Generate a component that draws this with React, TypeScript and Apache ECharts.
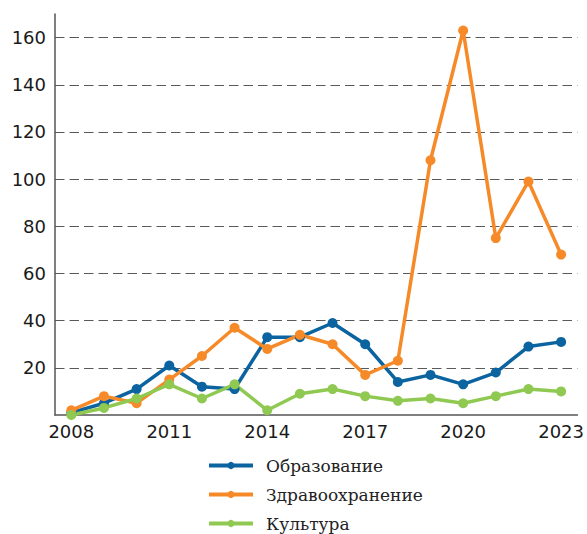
import React, { useEffect, useRef } from "react";
import * as echarts from "echarts";

const years = ["2008","2009","2010","2011","2012","2013","2014","2015","2016","2017","2018","2019","2020","2021","2022","2023"];
const education = [1, 5, 11, 21, 12, 11, 33, 33, 39, 30, 14, 17, 13, 18, 29, 31];
const health = [2, 8, 5, 15, 25, 37, 28, 34, 30, 17, 23, 108, 163, 75, 99, 68];
const culture = [0, 3, 7, 13, 7, 13, 2, 9, 11, 8, 6, 7, 5, 8, 11, 10];
const seriesNames = ["Образование", "Здравоохранение", "Культура"];
const colors = ["#0b63a0", "#f68a28", "#8fc952"];

export default function App() {
  const ref = useRef<HTMLDivElement>(null);
  useEffect(() => {
    if (!ref.current) return;
    const chart = echarts.init(ref.current, null, { renderer: "svg" });
    const mk = (name: string, data: number[], color: string) => ({
      name,
      type: "line",
      data,
      symbol: "circle",
      symbolSize: 10,
      lineStyle: { width: 3.5, color },
      itemStyle: { color },
    });
    chart.setOption({
      animation: false,
      grid: { left: 55, right: 9, top: 14, bottom: 119, containLabel: false },
      legend: {
        orient: "vertical",
        left: 207,
        top: 457,
        padding: 0,
        itemWidth: 44,
        itemHeight: 9,
        itemGap: 12,
        data: seriesNames,
        lineStyle: { width: 4 },
        textStyle: {
          fontFamily: "DejaVu Serif",
          fontSize: 17,
          lineHeight: 17,
          color: "#222",
          padding: [0, 0, 0, 8],
        },
      },
      xAxis: {
        type: "category",
        data: years,
        boundaryGap: true,
        axisLine: { lineStyle: { color: "#555", width: 1.5 } },
        axisTick: { show: false },
        axisLabel: {
          interval: 2,
          fontFamily: "DejaVu Sans",
          fontSize: 18,
          color: "#1a1a1a",
          margin: 7,
        },
        splitLine: { show: false },
      },
      yAxis: {
        type: "value",
        min: 0,
        max: 170,
        interval: 20,
        axisLine: { show: true, lineStyle: { color: "#555", width: 1.5 } },
        axisTick: { show: false },
        axisLabel: {
          showMinLabel: false,
          showMaxLabel: false,
          fontFamily: "DejaVu Sans",
          fontSize: 18,
          color: "#1a1a1a",
          margin: 9,
        },
        splitLine: {
          show: true,
          showMinLine: false,
          showMaxLine: false,
          lineStyle: { color: "#5a5a5a", width: 1.2, type: [9.5, 5] },
        },
      },
      series: [
        mk(seriesNames[0], education, colors[0]),
        mk(seriesNames[1], health, colors[1]),
        mk(seriesNames[2], culture, colors[2]),
      ],
    });
    return () => chart.dispose();
  }, []);
  return (
    <div
      ref={ref}
      style={{ position: "fixed", left: 0, top: 0, width: 587, height: 534, background: "#fff" }}
    />
  );
}
